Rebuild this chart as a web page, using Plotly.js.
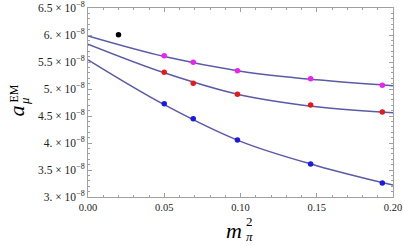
<!DOCTYPE html>
<html><head><meta charset="utf-8">
<script src="https://cdn.plot.ly/plotly-3.0.1.min.js"></script>
<style>html,body{margin:0;padding:0;background:#fff;}</style>
</head><body>
<div id="chart" style="width:403px;height:246px;"></div>
<script>
// values in units of 1e-8
const ptsX = [0.05, 0.069, 0.098, 0.146, 0.193];
const magentaY = [5.617, 5.494, 5.339, 5.191, 5.068];
const redY = [5.309, 5.105, 4.902, 4.704, 4.574];
const blueY = [4.728, 4.450, 4.056, 3.611, 3.259];
const blackX = [0.02];
const blackY = [6.006];
const curveX = [0.0, 0.05, 0.10, 0.15, 0.20];
const curveTopY = [5.98, 5.60, 5.33, 5.17, 5.06];
const curveMidY = [5.83, 5.30, 4.89, 4.67, 4.56];
const curveBotY = [5.54, 4.71, 4.03, 3.58, 3.22];
const yTickVals = [3.0, 3.5, 4.0, 4.5, 5.0, 5.5, 6.0, 6.5];
const yTickText = ['3.','3.5','4.','4.5','5.','5.5','6.','6.5'].map(s => s + ' × 10<sup>−8</sup>');
const xTickVals = [0, 0.05, 0.1, 0.15, 0.2];

const L = 88, R = 393, T = 8, B = 197;
const px = v => (v - L) / (R - L);
const py = v => (B - v) / (B - T);

const F = 'Liberation Serif, Times New Roman, serif';
const lineStyle = {color:'#5a5aa8', width:1.5, shape:'spline'};
const traces = [
  {x:curveX, y:curveTopY, mode:'lines', line:lineStyle, hoverinfo:'skip'},
  {x:curveX, y:curveMidY, mode:'lines', line:lineStyle, hoverinfo:'skip'},
  {x:curveX, y:curveBotY, mode:'lines', line:lineStyle, hoverinfo:'skip'},
  {x:ptsX, y:magentaY, mode:'markers', marker:{color:'#f020f0', size:5.5}},
  {x:ptsX, y:redY, mode:'markers', marker:{color:'#e81818', size:5.5}},
  {x:ptsX, y:blueY, mode:'markers', marker:{color:'#1a1ae8', size:5.5}},
  {x:blackX, y:blackY, mode:'markers', marker:{color:'#000', size:5.5}}
];
const axisCommon = {
  showgrid:false, zeroline:false, showline:true, linecolor:'#a0a0a0', linewidth:1,
  mirror:'allticks', ticks:'inside', ticklen:4, tickcolor:'#a0a0a0'
};
const ann = (x, y, text, size, angle) => ({
  xref:'paper', yref:'paper', x:px(x), y:py(y), text:text, showarrow:false,
  xanchor:'center', yanchor:'middle', textangle:angle || 0,
  font:{family:F, size:size, color:'#000'}
});
const layout = {
  width:403, height:246,
  margin:{l:L, r:403-R, t:T, b:246-B},
  paper_bgcolor:'#fff', plot_bgcolor:'#fff',
  showlegend:false,
  xaxis: Object.assign({}, axisCommon, {
    range:[0, 0.2], tickvals:xTickVals, tickformat:'.2f',
    tickfont:{family:F, size:10.5, color:'#222'},
    minor:{dtick:0.01, ticks:'inside', ticklen:2, tickcolor:'#a0a0a0'}
  }),
  yaxis: Object.assign({}, axisCommon, {
    range:[3.0, 6.5], tickvals:yTickVals, ticktext:yTickText,
    tickfont:{family:F, size:11.5, color:'#222'},
    minor:{dtick:0.1, ticks:'inside', ticklen:2, tickcolor:'#a0a0a0'}
  }),
  annotations: [
    ann(234, 230, '<i>m</i>', 22),
    ann(249.5, 221, '2', 13),
    ann(249, 236, '<i>π</i>', 13),
    ann(15.5, 111, '<i>a</i>', 22, -90),
    ann(14, 93.5, 'EM', 12, -90),
    ann(24.5, 101.5, '<i>μ</i>', 13, -90)
  ]
};
Plotly.newPlot('chart', traces, layout, {staticPlot:true, displayModeBar:false});
</script>
</body></html>
